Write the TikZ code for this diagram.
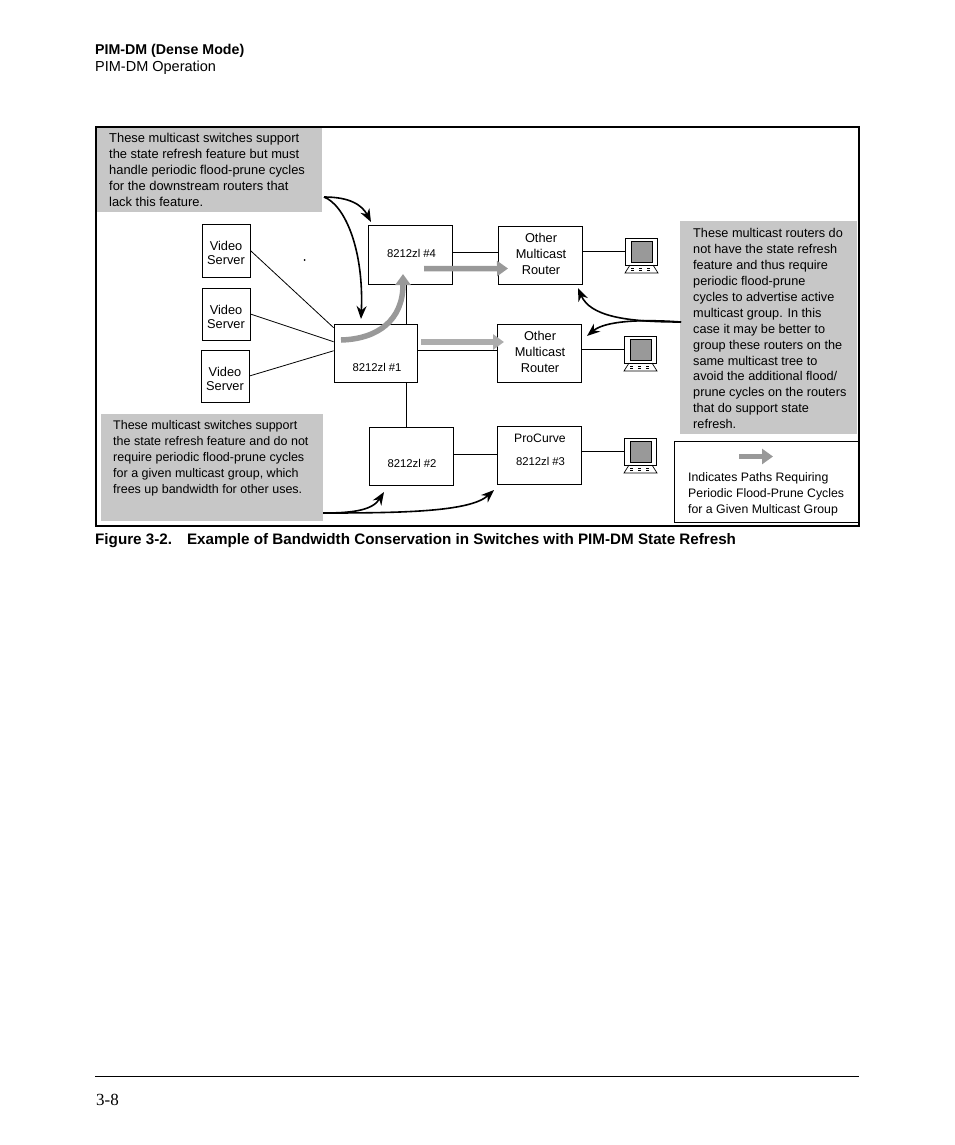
\documentclass[tikz,border=0pt]{standalone}
\usepackage{fontspec}
\setmainfont{Liberation Sans}
\newfontfamily\pagefont{Liberation Serif}
\usetikzlibrary{arrows.meta}
\definecolor{notegray}{gray}{0.78}
\definecolor{pathgray}{gray}{0.6}
\definecolor{pathlight}{gray}{0.68}
\tikzset{
  devbox/.style={draw, line width=0.8pt, inner sep=0pt},
  notebox/.style={fill=notegray, inner sep=0pt},
  notetext/.style={anchor=north west, inner sep=0pt, align=left, font=\fontsize{#1}{15.95}\selectfont},
  plain/.style={inner sep=0pt, align=center, font=\fontsize{12.8}{14}\selectfont},
  tag/.style={inner sep=0pt, font=\fontsize{11.3}{14}\selectfont},
  link/.style={line width=0.8pt},
  pointer/.style={line width=1.6pt, -{Stealth[length=13pt,width=10pt]}},
  flow/.style={line width=5.5pt, pathgray, -{Triangle[length=11pt,width=15pt]}},
  computer/.pic={
    \draw[line width=0.8pt, fill=white] (0,0) rectangle (32,27);
    \draw[line width=0.8pt, fill=pathgray] (6,3) rectangle (27,24);
    \draw[line width=0.7pt] (5,27) -- (0,35) -- (33,35) -- (28,27);
    \draw[line width=0.6pt, dash pattern=on 3pt off 5pt] (6,30.5) -- (28,30.5) (6,32.5) -- (28,32.5);
    \coordinate (-west) at (0,13.5);
  }
}
\begin{document}
\begin{tikzpicture}[x=1pt, y=-1pt]
  \useasboundingbox (0,0) rectangle (954,1145);

  % page furniture
  \node[anchor=base west, inner sep=0pt, font=\fontsize{14.2}{16}\selectfont\bfseries] (head) at (95,55) {PIM-DM (Dense Mode)};
  \node[anchor=base west, inner sep=0pt, font=\fontsize{14.5}{16}\selectfont] (subhead) at (95,72) {PIM-DM Operation};
  \node[anchor=base west, inner sep=0pt, font=\fontsize{15.2}{18}\selectfont\bfseries] (caption) at (95,544.5) {Figure 3-2.\hspace{15pt}Example of Bandwidth Conservation in Switches with PIM-DM State Refresh};
  \node[anchor=base west, inner sep=0pt, font=\fontsize{17}{18}\pagefont] (pageno) at (96,1105) {3-8};
  \coordinate (rulea) at (95,1076);
  \coordinate (ruleb) at (859,1076);
  \draw[line width=0.8pt] (rulea) -- (ruleb);

  % grey notes
  \node[notebox, minimum width=225pt, minimum height=84pt] (noteabox) at (209.5,170) {};
  \node[notebox, minimum width=222pt, minimum height=107pt] (notebbox) at (212,467.5) {};
  \node[notebox, minimum width=177pt, minimum height=213pt] (notecbox) at (768.5,327.5) {};
  \node[notetext=12.9] (notea) at (109,133) {These multicast switches support\\the state refresh feature but must\\handle periodic flood-prune cycles\\for the downstream routers that\\lack this feature.};
  \node[notetext=12.5] (noteb) at (113,420) {These multicast switches support\\the state refresh feature and do not\\require periodic flood-prune cycles\\for a given multicast group, which\\frees up bandwidth for other uses.};
  \node[notetext=12.7] (notec) at (693,228) {These multicast routers do\\not have the state refresh\\feature and thus require\\periodic flood-prune\\cycles to advertise active\\multicast group. In this\\case it may be better to\\group these routers on the\\same multicast tree to\\avoid the additional flood/\\prune cycles on the routers\\that do support state\\refresh.};

  % devices
  \node[devbox, minimum width=48pt, minimum height=53pt] (videoa) at (226,250.5) {};
  \node[devbox, minimum width=48pt, minimum height=52pt] (videob) at (226,314) {};
  \node[devbox, minimum width=48pt, minimum height=52pt] (videoc) at (225,376) {};
  \node[plain] (videoalabel) at (226,252.5) {Video\\Server};
  \node[plain] (videoblabel) at (226,316.5) {Video\\Server};
  \node[plain] (videoclabel) at (225,378.5) {Video\\Server};
  \node[devbox, minimum width=84pt, minimum height=59pt] (swd) at (410,254.5) {};
  \node[tag] (swdlabel) at (411.5,253) {8212zl \#4};
  \node[devbox, minimum width=83.5pt, minimum height=58pt] (swa) at (375.75,353) {};
  \node[tag] (swalabel) at (377,367) {8212zl \#1};
  \node[devbox, minimum width=84pt, minimum height=58pt] (swb) at (411,456) {};
  \node[tag] (swblabel) at (412,463) {8212zl \#2};
  \node[devbox, minimum width=84pt, minimum height=58pt] (otha) at (540,255) {};
  \node[plain, font=\fontsize{12.8}{16}\selectfont] (othalabel) at (541,253.5) {Other\\Multicast\\Router};
  \node[devbox, minimum width=84pt, minimum height=58pt] (othb) at (539,353) {};
  \node[plain, font=\fontsize{12.8}{16}\selectfont] (othblabel) at (540,352) {Other\\Multicast\\Router};
  \node[devbox, minimum width=84pt, minimum height=58pt] (swc) at (539,455) {};
  \node[plain, font=\fontsize{12.2}{14}\selectfont] (swclabel) at (540,438) {ProCurve};
  \node[tag] (swcnum) at (540.5,461) {8212zl \#3};

  \pic (pca) at (625,238) {computer};
  \pic (pcb) at (624,336) {computer};
  \pic (pcc) at (624,438) {computer};

  % links
  \draw[link] (videoa.east) -- (swa.149);
  \draw[link] (videob.east) -- (swa.165);
  \draw[link] (videoc.east) -- (swa.177);
  \draw[link] ([xshift=-4pt]swd.south) -- ([xshift=30.25pt]swa.north);
  \draw[link] ([xshift=30.25pt]swa.south) -- ([xshift=-5pt]swb.north);
  \draw[link] ([yshift=2.5pt]swd.east) -- ([yshift=3pt]otha.west);
  \draw[link] ([yshift=3pt]swa.east) -- ([yshift=3pt]othb.west);
  \draw[link] ([yshift=2pt]swb.east) -- ([yshift=1pt]swc.west);
  \draw[link] ([yshift=3.5pt]otha.east) -- (pca-west);
  \draw[link] ([yshift=3.5pt]othb.east) -- (pcb-west);
  \draw[link] ([yshift=3.5pt]swc.east) -- (pcc-west);

  % stray dot
  \fill (304.5,260) circle (1pt);

  % pointers out of the notes
  \coordinate (outa) at (324,197);
  \coordinate (outb) at (323,513);
  \coordinate (outc) at (681,322);
  \coordinate (tipd) at (371,222);
  \coordinate (tipa) at (361,319);
  \coordinate (tipb) at (384,492);
  \coordinate (tipc) at (494,490);
  \coordinate (tipe) at (578,288);
  \coordinate (tipf) at (587,336);
  \draw[pointer] (outa) .. controls (350,197) and (362,205) .. (tipd);
  \draw[pointer] (outa) .. controls (345,205) and (364,250) .. (tipa);
  \draw[pointer] (outb) .. controls (350,513) and (372,511) .. (tipb);
  \draw[pointer] (outb) .. controls (400,513) and (470,512) .. (tipc);
  \draw[pointer] (outc) .. controls (625,322) and (590,316) .. (tipe);
  \draw[pointer] (outc) .. controls (640,319) and (605,321) .. (tipf);

  % grey flows
  \coordinate (flowa) at (424,268.7);
  \coordinate (flowb) at (508,268.5);
  \coordinate (flowc) at (421,342);
  \coordinate (flowd) at (504,342);
  \coordinate (flowe) at (341,340);
  \coordinate (flowf) at (403,274);
  \draw[flow] (flowa) -- (flowb);
  \draw[flow, pathlight] (flowc) -- (flowd);
  \draw[flow] (flowe) .. controls (378,339) and (403,320) .. (flowf);

  % frame and legend
  \node[draw, line width=0.8pt, minimum width=184pt, minimum height=81pt, inner sep=0pt] (legend) at (766,481.5) {};
  \coordinate (lega) at (739,456.5);
  \coordinate (legb) at (773,456.5);
  \draw[flow] (lega) -- (legb);
  \node[notetext=12.3] (legendtext) at (688,472) {Indicates Paths Requiring\\Periodic Flood-Prune Cycles\\for a Given Multicast Group};
  \node[draw, line width=2pt, minimum width=763pt, minimum height=399pt, inner sep=0pt] (frame) at (477.5,326.5) {};
\end{tikzpicture}
\end{document}
